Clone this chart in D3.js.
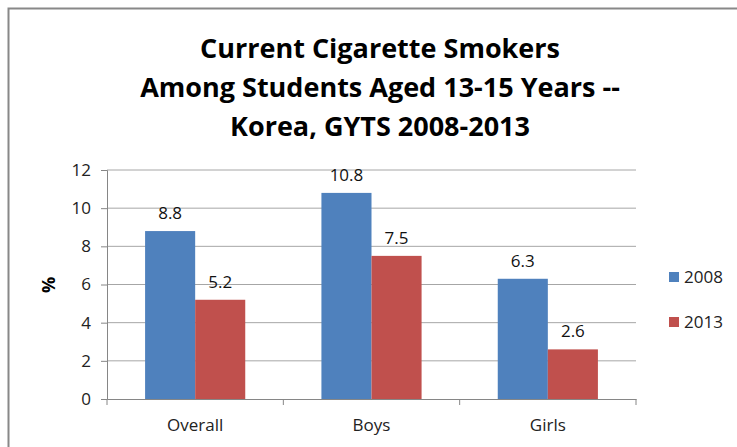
<!DOCTYPE html>
<html>
<head>
<meta charset="utf-8">
<script src="https://cdn.jsdelivr.net/npm/d3@7"></script>
<style>
  body { margin: 0; background: #fff; }
  text { font-family: "Open Sans", sans-serif; }
</style>
</head>
<body>
<div id="chart"></div>
<script>
const groups = ["Overall", "Boys", "Girls"];
const years = ["2008", "2013"];
const values2008 = [8.8, 10.8, 6.3];
const values2013 = [5.2, 7.5, 2.6];
const yTicks = [0, 2, 4, 6, 8, 10, 12];
const titleLines = ["Current Cigarette Smokers", "Among Students Aged 13-15 Years --", "Korea, GYTS 2008-2013"];

const colors = { "2008": "#4f81bd", "2013": "#c0504d" };

const W = 737, H = 447;
const svg = d3.select("#chart").append("svg")
  .attr("width", W)
  .attr("height", H);

// outer frame
svg.append("rect")
  .attr("x", 8.5).attr("y", 8.5)
  .attr("width", W + 10).attr("height", H + 10)
  .attr("fill", "none")
  .attr("stroke", "#888")
  .attr("stroke-width", 2);

// title
svg.append("text")
  .attr("x", 380)
  .attr("y", 58)
  .attr("text-anchor", "middle")
  .attr("font-size", "27px")
  .attr("font-weight", "700")
  .attr("fill", "#000")
  .selectAll("tspan")
  .data(titleLines)
  .enter()
  .append("tspan")
  .attr("x", 380)
  .attr("dy", (d, i) => i === 0 ? 0 : 39)
  .text(d => d);

const margin = { left: 107, right: 101, top: 170, bottom: 48 };
const width = W - margin.left - margin.right,
  height = H - margin.top - margin.bottom;

const g = svg.append("g")
  .attr("transform", `translate(${margin.left},${margin.top})`);

const x = d3.scaleBand().domain(groups).range([0, width]);
const x1 = d3.scaleBand().domain(years)
  .range([x.bandwidth() * 0.216, x.bandwidth() * 0.784]);
const y = d3.scaleLinear().domain([0, 12]).range([height, 0]);

// gridlines
g.append("g")
  .selectAll("line")
  .data(yTicks.filter(d => d > 0))
  .enter()
  .append("line")
  .attr("x1", 0).attr("x2", width)
  .attr("y1", d => y(d)).attr("y2", d => y(d))
  .attr("stroke", "#a6a6a6")
  .attr("stroke-width", 1);

// y axis
const yAxis = g.append("g")
  .call(d3.axisLeft(y).tickValues(yTicks).tickSize(6).tickPadding(10));
yAxis.select(".domain").attr("stroke", "#868686");
yAxis.selectAll(".tick line").attr("stroke", "#868686");
yAxis.selectAll("text")
  .attr("font-family", "Open Sans, sans-serif")
  .attr("font-size", "17px")
  .attr("fill", "#222");

// bars
const series = [
  { year: "2008", vals: values2008 },
  { year: "2013", vals: values2013 }
];
series.forEach(s => {
  const bars = g.append("g");
  bars.selectAll("rect")
    .data(groups)
    .enter()
    .append("rect")
    .attr("x", (d) => x(d) + x1(s.year))
    .attr("y", (d, i) => y(s.vals[i]))
    .attr("width", x1.bandwidth())
    .attr("height", (d, i) => height - y(s.vals[i]))
    .attr("fill", colors[s.year]);

  bars.selectAll("text")
    .data(groups)
    .enter()
    .append("text")
    .attr("x", d => x(d) + x1(s.year) + x1.bandwidth() / 2)
    .attr("y", (d, i) => y(s.vals[i]) - 12)
    .attr("text-anchor", "middle")
    .attr("font-size", "17px")
    .attr("fill", "#111")
    .text((d, i) => s.vals[i]);
});

// x axis
const xAxis = g.append("g")
  .attr("transform", `translate(0,${height})`)
  .call(d3.axisBottom(x).tickSize(0).tickPadding(20));
xAxis.select(".domain").attr("stroke", "#868686");
xAxis.selectAll("text")
  .attr("font-family", "Open Sans, sans-serif")
  .attr("font-size", "17px")
  .attr("fill", "#222");
// category separators
xAxis.selectAll(".sep")
  .data([0, 1, 2, 3])
  .enter()
  .append("line")
  .attr("x1", i => i * x.step()).attr("x2", i => i * x.step())
  .attr("y1", 0).attr("y2", 6)
  .attr("stroke", "#868686");

// y label
svg.append("text")
  .attr("transform", "translate(55,285) rotate(-90)")
  .attr("text-anchor", "middle")
  .attr("font-size", "18px")
  .attr("font-weight", "700")
  .text("%");

// legend
const legend = svg.append("g").attr("transform", "translate(669,272)");
years.forEach((yr, i) => {
  legend.append("rect")
    .attr("x", 0).attr("y", i * 45)
    .attr("width", 10).attr("height", 10)
    .attr("fill", colors[yr]);
  legend.append("text")
    .attr("x", 15).attr("y", i * 45 + 11)
    .attr("font-size", "17px")
    .attr("fill", "#222")
    .text(yr);
});
</script>
</body>
</html>
